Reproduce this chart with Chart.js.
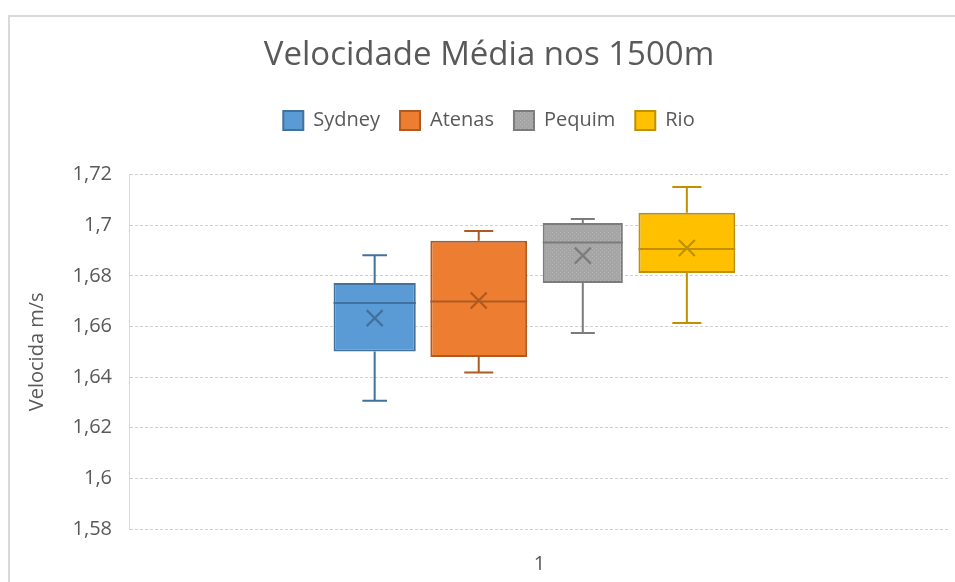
<!DOCTYPE html>
<html>
<head>
<meta charset="utf-8">
<title>Velocidade Média nos 1500m</title>
<script src="https://cdn.jsdelivr.net/npm/chart.js@4.4.1/dist/chart.umd.min.js"></script>
<style>
  html, body { margin: 0; padding: 0; background: #ffffff; }
</style>
</head>
<body>
<canvas id="chart" width="955" height="582"></canvas>
<script>
// Five-number summaries (plus mean) of the 1500m average speed, per Olympic Games
const categories = ['1'];
const seriesNames = ['Sydney', 'Atenas', 'Pequim', 'Rio'];
const minValues    = [1.6307, 1.6418, 1.6574, 1.6614];
const q1Values     = [1.6501, 1.6479, 1.6772, 1.6811];
const medianValues = [1.6693, 1.6699, 1.6932, 1.6906];
const q3Values     = [1.6772, 1.6939, 1.7009, 1.7049];
const maxValues    = [1.6881, 1.6977, 1.7025, 1.7151];
const meanValues   = [1.6633, 1.6703, 1.6880, 1.6910];
const yTickLabels  = ['1,58', '1,6', '1,62', '1,64', '1,66', '1,68', '1,7', '1,72'];

const fillColors   = ['#5b9bd5', '#ed7d31', '#a5a5a5', '#ffc000'];
const lineColors   = ['#41719c', '#ae5a21', '#7c7c7c', '#bf9000'];
const boxFractions = [0.79, 0.93, 0.77, 0.93];

// light dotted texture used by the grey series
function dottedFill(base, dot) {
  const c = document.createElement('canvas');
  c.width = 4; c.height = 4;
  const g = c.getContext('2d');
  g.fillStyle = base; g.fillRect(0, 0, 4, 4);
  g.fillStyle = dot; g.fillRect(0, 0, 1, 1); g.fillRect(2, 2, 1, 1);
  return g.createPattern(c, 'repeat');
}
const fills = fillColors.slice();
fills[2] = dottedFill(fillColors[2], '#b3b3b3');

Chart.defaults.font.family = "'Open Sans', sans-serif";
Chart.defaults.color = '#595959';

// each box is a floating bar from Q1 to Q3
const datasets = seriesNames.map((name, i) => ({
  label: name,
  data: [{ x: 1, y: [q1Values[i], q3Values[i]] }],
  backgroundColor: fills[i],
  borderColor: lineColors[i],
  borderWidth: 2,
  borderSkipped: false,
  barPercentage: boxFractions[i],
  categoryPercentage: 0.507,
  xAxisID: 'xb'
}));

// whiskers, median line and mean cross drawn on top of each box
const boxWhiskers = {
  id: 'boxWhiskers',
  afterDatasetsDraw(chart) {
    const ctx = chart.ctx;
    const y = chart.scales.y;
    chart.data.datasets.forEach((ds, i) => {
      const meta = chart.getDatasetMeta(i);
      if (meta.hidden) return;
      const bar = meta.data[0];
      const { x, width } = bar.getProps(['x', 'width'], true);
      const half = width / 2;
      const cap = width * 0.15;
      const pMin = y.getPixelForValue(minValues[i]);
      const pQ1 = y.getPixelForValue(q1Values[i]);
      const pMed = y.getPixelForValue(medianValues[i]);
      const pQ3 = y.getPixelForValue(q3Values[i]);
      const pMax = y.getPixelForValue(maxValues[i]);
      const pMean = y.getPixelForValue(meanValues[i]);
      ctx.save();
      ctx.strokeStyle = lineColors[i];
      ctx.lineWidth = 2;
      ctx.beginPath();
      ctx.moveTo(x, pQ3); ctx.lineTo(x, pMax);
      ctx.moveTo(x - cap, pMax); ctx.lineTo(x + cap, pMax);
      ctx.moveTo(x, pQ1); ctx.lineTo(x, pMin);
      ctx.moveTo(x - cap, pMin); ctx.lineTo(x + cap, pMin);
      ctx.moveTo(x - half, pMed); ctx.lineTo(x + half, pMed);
      ctx.stroke();
      const m = 8;
      ctx.lineWidth = 2.2;
      ctx.beginPath();
      ctx.moveTo(x - m, pMean - m); ctx.lineTo(x + m, pMean + m);
      ctx.moveTo(x - m, pMean + m); ctx.lineTo(x + m, pMean - m);
      ctx.stroke();
      ctx.restore();
    });
  }
};

// white background and the light frame around the chart
const frame = {
  id: 'frame',
  beforeDraw(chart) {
    const ctx = chart.ctx;
    ctx.save();
    ctx.fillStyle = '#ffffff';
    ctx.fillRect(0, 0, chart.width, chart.height);
    ctx.strokeStyle = '#d9d9d9';
    ctx.lineWidth = 2;
    ctx.strokeRect(9, 16, chart.width + 20, chart.height + 20);
    ctx.restore();
  }
};

// extra room between the legend row and the plot
const legendGap = {
  id: 'legendGap',
  beforeInit(chart) {
    const legend = chart.legend;
    if (!legend) return;
    const fit = legend.fit;
    legend.fit = function () {
      fit.call(this);
      this.height += 34;
    };
  }
};

new Chart(document.getElementById('chart'), {
  type: 'bar',
  data: { labels: categories, datasets },
  plugins: [frame, legendGap, boxWhiskers],
  options: {
    responsive: false,
    animation: false,
    layout: { padding: { left: 28, right: 5, top: 0, bottom: 0 } },
    plugins: {
      title: {
        display: true,
        text: 'Velocidade Média nos 1500m',
        color: '#595959',
        font: { size: 33, weight: 'normal' },
        padding: { top: 36, bottom: 15 }
      },
      legend: {
        position: 'top',
        labels: {
          boxWidth: 20,
          boxHeight: 19,
          color: '#595959',
          font: { size: 20 },
          padding: 20
        }
      },
      tooltip: { enabled: false }
    },
    scales: {
      x: {
        type: 'category',
        grid: { display: false },
        border: { display: false },
        ticks: { color: '#595959', font: { size: 20 }, padding: 15 },
        afterFit(scale) { scale.height = 53; }
      },
      // hidden placement axis for the box group
      xb: {
        type: 'linear',
        display: false,
        offset: false,
        bounds: 'data',
        min: 0,
        max: 2.0435,
        afterBuildTicks(scale) { scale.ticks = [{ value: 1 }]; }
      },
      y: {
        min: 1.58,
        max: 1.72,
        ticks: {
          stepSize: 0.02,
          color: '#595959',
          font: { size: 20 },
          padding: 17,
          callback: (v, i) => yTickLabels[i]
        },
        grid: { color: '#d0d0d0', drawTicks: false, lineWidth: 1 },
        border: { display: true, color: '#d9d9d9', dash: [3, 2] },
        title: {
          display: true,
          text: 'Velocida m/s',
          color: '#595959',
          font: { size: 20 },
          padding: { top: -3, bottom: 0 }
        },
        afterFit(scale) { scale.width = 101; }
      }
    }
  }
});
</script>
</body>
</html>
